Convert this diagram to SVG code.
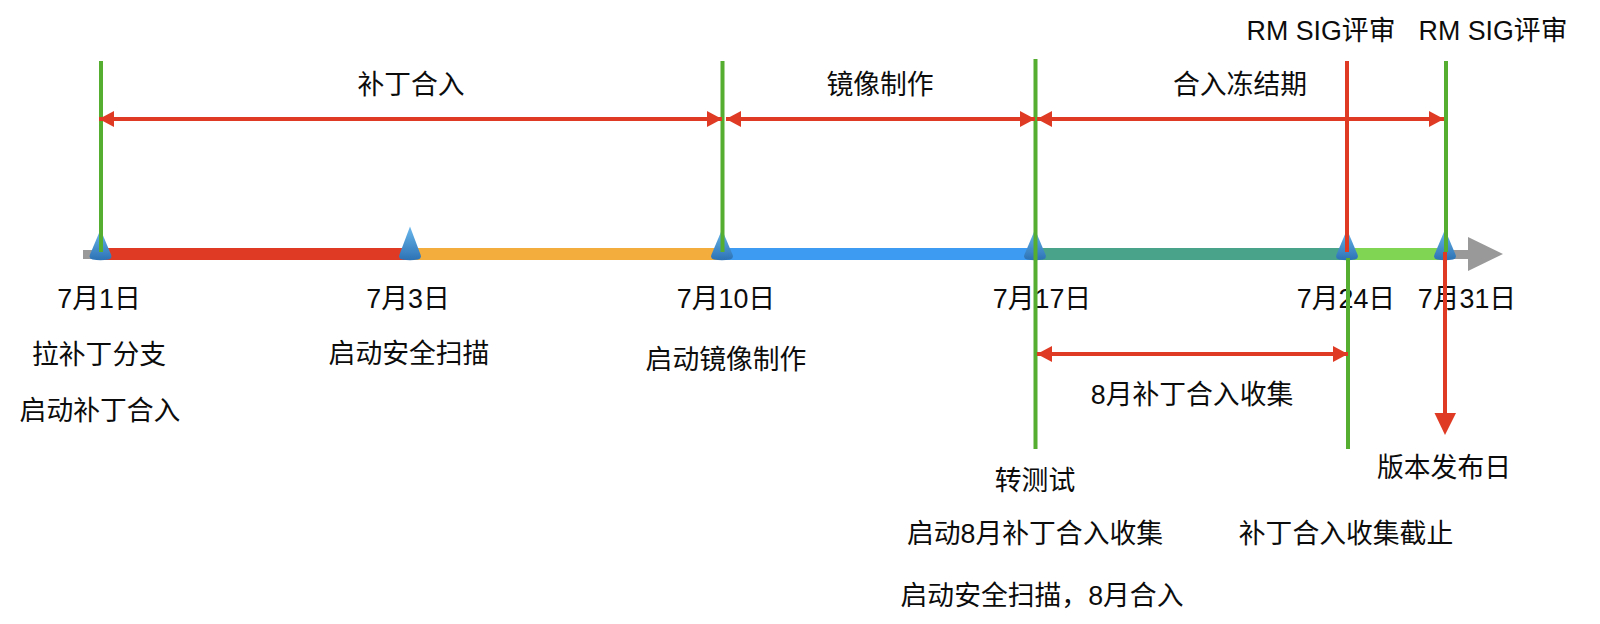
<svg xmlns="http://www.w3.org/2000/svg" width="1600" height="624" viewBox="0 0 1600 624">
<style>
text{font-family:"Liberation Sans","Noto Sans CJK SC",sans-serif;font-size:26.8px;fill:#0c0c0c;text-anchor:middle;dominant-baseline:central}
.g{stroke:#55ae2f;stroke-width:4;fill:none}
.r{stroke:#df3b24;stroke-width:4;fill:none}
.d{stroke:#df3b24;stroke-width:4;fill:none;marker-start:url(#s);marker-end:url(#e)}
.seg{stroke-width:12;fill:none}
.cone{fill:url(#cg)}
</style>
<defs>
<linearGradient id="cg" x1="0" y1="0" x2="0" y2="1"><stop offset="0" stop-color="#6ab8ee"/><stop offset="1" stop-color="#2c72b4"/></linearGradient>
<marker id="e" markerUnits="userSpaceOnUse" markerWidth="16" markerHeight="16" refX="15" refY="8" orient="auto"><path d="M0 0L15 8L0 16Z" fill="#df3b24"/></marker>
<marker id="s" markerUnits="userSpaceOnUse" markerWidth="16" markerHeight="16" refX="0" refY="8" orient="auto"><path d="M15 0L0 8L15 16Z" fill="#df3b24"/></marker>
<symbol id="c" overflow="visible"><path class="cone" d="M0 -30L10.500 -5Q12 -1 8 0Q0 1.500 -8 0Q-12 -1 -10.500 -5Z"/></symbol>
</defs>
<g id="timeline">
<path d="M83 254.500H1470" stroke="#999" stroke-width="9" fill="none"/>
<path d="M1468 237L1503 254L1468 271Z" fill="#999"/>
<path class="seg" d="M100 254H410" stroke="#df3b24"/>
<path class="seg" d="M410 254H722" stroke="#f3ad3d"/>
<path class="seg" d="M722 254H1035" stroke="#3d9bf2"/>
<path class="seg" d="M1035 254H1347" stroke="#48a38a"/>
<path class="seg" d="M1347 254H1445" stroke="#80d552"/>
</g>
<g id="markers">
<use href="#c" x="100.500" y="259.500"/>
<path class="cone" d="M410 226.500L420.500 254.500Q422 258.500 418 259.500Q410 261 402 259.500Q398 258.500 399.500 254.500Z"/>
<use href="#c" x="722" y="259.500"/>
<use href="#c" x="1035" y="259.500"/>
<use href="#c" x="1347" y="259.500"/>
<use href="#c" x="1445" y="259.500"/>
</g>
<g id="labels">
<text x="411" y="85">补丁合入</text>
<text x="880" y="85">镜像制作</text>
<text x="1240" y="85">合入冻结期</text>
<text x="1321" y="31">RM SIG评审</text>
<text x="1493" y="31">RM SIG评审</text>
<text x="99" y="299">7月1日</text>
<text x="99" y="355">拉补丁分支</text>
<text x="100" y="411">启动补丁合入</text>
<text x="408" y="299">7月3日</text>
<text x="409" y="354">启动安全扫描</text>
<text x="726" y="299">7月10日</text>
<text x="726" y="360">启动镜像制作</text>
<text x="1042" y="299">7月17日</text>
<text x="1346" y="299">7月24日</text>
<text x="1467" y="299">7月31日</text>
<text x="1192" y="395">8月补丁合入收集</text>
<text x="1035" y="481">转测试</text>
<text x="1035" y="534">启动8月补丁合入收集</text>
<text x="1042" y="596">启动安全扫描，8月合入</text>
<text x="1346" y="534">补丁合入收集截止</text>
<text x="1444" y="468">版本发布日</text>
</g>
<g id="connectors">
<path class="g" d="M101 61V252"/>
<path class="g" d="M722.500 61V252"/>
<path class="g" d="M1035.500 59V449"/>
<path class="g" d="M1348 258V449"/>
<path class="g" d="M1446 61V252"/>
<path class="r" d="M1347 61V252"/>
<path class="r" d="M1445 252V415"/>
<path d="M1434.500 413H1456L1445 435Z" fill="#df3b24"/>
<path class="d" d="M99 119H722"/>
<path class="d" d="M726 119H1035"/>
<path class="d" d="M1037 119H1444"/>
<path class="d" d="M1037 354H1348"/>
</g>
</svg>
